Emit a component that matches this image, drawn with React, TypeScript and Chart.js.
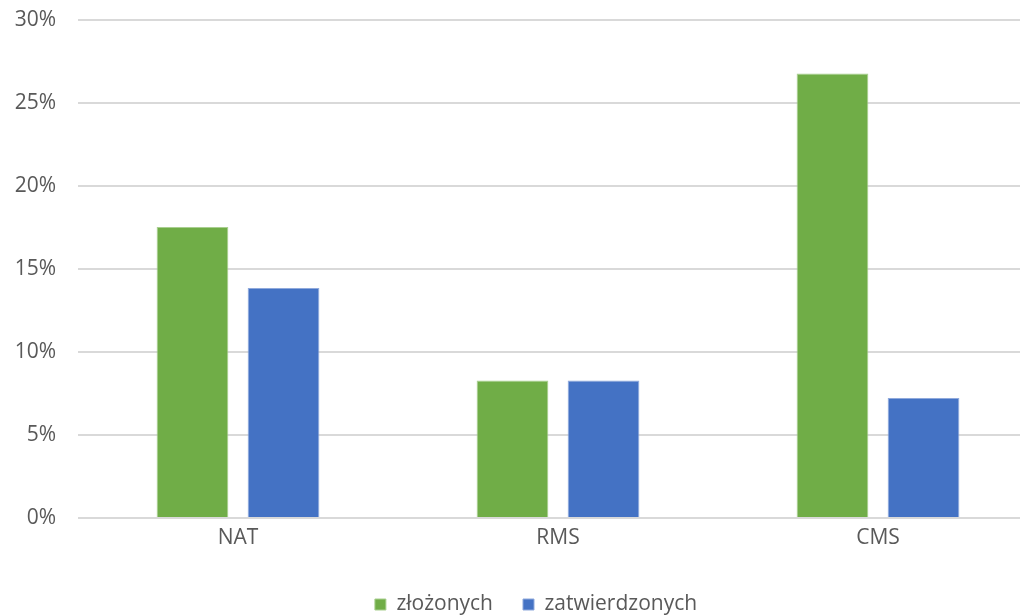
import React, { useEffect, useRef } from "react";
import { Chart, registerables } from "chart.js";

Chart.register(...registerables);

const categories = ["NAT", "RMS", "CMS"];
const zlozonych = [17.53, 8.29, 26.77];
const zatwierdzonych = [13.86, 8.29, 7.23];
const yTicks = [0, 5, 10, 15, 20, 25, 30];

const FONT = "'Open Sans', 'Noto Sans', sans-serif";
const TEXT = "#595959";

export default function App() {
  const ref = useRef<HTMLCanvasElement | null>(null);
  useEffect(() => {
    if (!ref.current) return;
    const chart = new Chart(ref.current, {
      type: "bar",
      data: {
        labels: categories,
        datasets: [
          {
            label: "złożonych",
            data: zlozonych,
            backgroundColor: "#70AD47",
            borderColor: "#A9CF90",
            borderWidth: 1,
            categoryPercentage: 0.569,
            barPercentage: 0.788,
          },
          {
            label: "zatwierdzonych",
            data: zatwierdzonych,
            backgroundColor: "#4472C4",
            borderColor: "#8FA9DC",
            borderWidth: 1,
            categoryPercentage: 0.569,
            barPercentage: 0.788,
          },
        ],
      },
      options: {
        animation: false,
        responsive: false,
        maintainAspectRatio: false,
        layout: { padding: { top: 20, right: 0, left: 0, bottom: -9 } },
        plugins: {
          tooltip: { enabled: false },
          legend: {
            position: "bottom",
            labels: {
              boxWidth: 11,
              boxHeight: 11,
              padding: 30,
              color: TEXT,
              font: { family: FONT, size: 21 },
            },
          },
        },
        scales: {
          x: {
            grid: { display: false, drawTicks: false },
            border: { display: false },
            ticks: { color: TEXT, font: { family: FONT, size: 21 }, padding: 7 },
            afterFit: (s: any) => {
              s.height = 46;
            },
          },
          y: {
            min: 0,
            max: 30,
            afterBuildTicks: (s: any) => {
              s.ticks = yTicks.map((v) => ({ value: v }));
            },
            grid: { color: "#D9D9D9", lineWidth: 2, drawTicks: false },
            border: { display: false },
            ticks: {
              color: TEXT,
              font: { family: FONT, size: 21 },
              padding: 22,
              callback: (v: any) => v + "%",
            },
            afterFit: (s: any) => {
              s.width = 78;
              s.paddingTop = 0;
              s.paddingBottom = 0;
            },
          },
          y2: {
            position: "right",
            min: 0,
            max: 30,
            grid: { display: false, drawTicks: false },
            border: { display: false },
            ticks: { display: false },
            afterFit: (s: any) => {
              s.width = 34;
              s.paddingTop = 0;
              s.paddingBottom = 0;
            },
          },
        },
      },
    });
    return () => chart.destroy();
  }, []);
  return (
    <div
      style={{
        position: "fixed",
        left: 0,
        top: 0,
        width: 1020,
        height: 616,
        overflow: "hidden",
        background: "#fff",
      }}
    >
      <canvas ref={ref} width={1072} height={616} style={{ display: "block" }} />
    </div>
  );
}
